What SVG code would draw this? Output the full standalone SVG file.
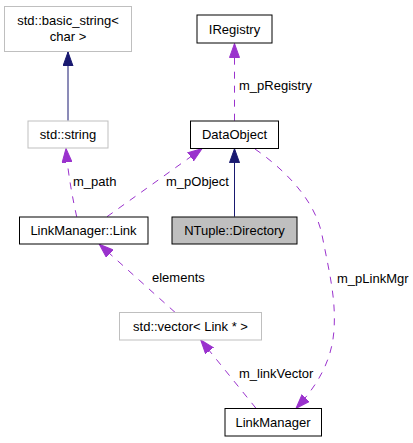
<svg xmlns="http://www.w3.org/2000/svg" width="413" height="443" viewBox="0 0 413 443">
<style>
text{font-family:"Liberation Sans",Arial,sans-serif;font-size:13px;fill:#000}
.n text{text-anchor:middle}
.box{fill:#fff;stroke:#000;stroke-width:1}
.gbox{fill:#fff;stroke:#bfbfbf;stroke-width:1}
.cur{fill:#bfbfbf;stroke:#000;stroke-width:1}
.inh{fill:none;stroke:#191970;stroke-width:1}
.use{fill:none;stroke:#9a32cd;stroke-width:1;stroke-dasharray:7,7}
</style>
<defs>
<marker id="hb" markerUnits="userSpaceOnUse" markerWidth="15" markerHeight="11" refX="14" refY="5.5" orient="auto"><path d="M0,0.5 L14,5.5 L0,10.5 z" fill="#191970" stroke="#191970"/></marker>
<marker id="hp" markerUnits="userSpaceOnUse" markerWidth="15" markerHeight="11" refX="14" refY="5.5" orient="auto"><path d="M0,0.5 L14,5.5 L0,10.5 z" fill="#9a32cd" stroke="#9a32cd"/></marker>
</defs>
<rect width="413" height="443" fill="#fff"/>
<g id="edges">
<path class="inh" d="M68,120.7 L68,52" marker-end="url(#hb)"/>
<path class="inh" d="M234.5,216.7 L234.5,148.7" marker-end="url(#hb)"/>
<path class="use" d="M234.5,120.7 L234.5,43.5" marker-end="url(#hp)"/>
<path class="use" d="M76.7,216.7 C73,200 68,175 66,148.5" marker-end="url(#hp)"/>
<path class="use" d="M107,216.7 L202,148.7" marker-end="url(#hp)"/>
<path class="use" d="M255,149 C285,170 315,200 322,235 C330,275 336,300 334,330 C332,360 318,385 296,408.3" marker-end="url(#hp)"/>
<path class="use" d="M256,408.3 L200.7,340" marker-end="url(#hp)"/>
<path class="use" d="M175,312.3 L99.3,244.3" marker-end="url(#hp)"/>
<text x="239" y="90">m_pRegistry</text>
<text x="73" y="186">m_path</text>
<text x="166" y="186">m_pObject</text>
<text x="152" y="282">elements</text>
<text x="337" y="283">m_pLinkMgr</text>
<text x="239" y="378">m_linkVector</text>
</g>
<g id="basic_string" class="n"><rect class="gbox" x="4.5" y="6.5" width="127" height="45"/><text x="68" y="24.5">std::basic_string&lt;</text><text x="68" y="41">char &gt;</text></g>
<g id="string" class="n"><rect class="gbox" x="28" y="121" width="80" height="27"/><text x="68" y="138.5">std::string</text></g>
<g id="IRegistry" class="n"><rect class="box" x="197" y="15" width="75" height="28"/><text x="234.5" y="33.5">IRegistry</text></g>
<g id="DataObject" class="n"><rect class="box" x="190.5" y="121" width="88" height="27.5"/><text x="234.5" y="138.5">DataObject</text></g>
<g id="Directory" class="n"><rect class="cur" x="172" y="217" width="125" height="27"/><text x="234.5" y="234.5">NTuple::Directory</text></g>
<g id="Link" class="n"><rect class="box" x="19.5" y="217" width="128.5" height="27"/><text x="83.5" y="234.5">LinkManager::Link</text></g>
<g id="vector" class="n"><rect class="gbox" x="119.5" y="312.5" width="142" height="27.5"/><text x="190.5" y="330.5">std::vector&lt; Link * &gt;</text></g>
<g id="LinkManager" class="n"><rect class="box" x="225" y="408.5" width="96.5" height="27.5"/><text x="273" y="426.5">LinkManager</text></g>
</svg>
